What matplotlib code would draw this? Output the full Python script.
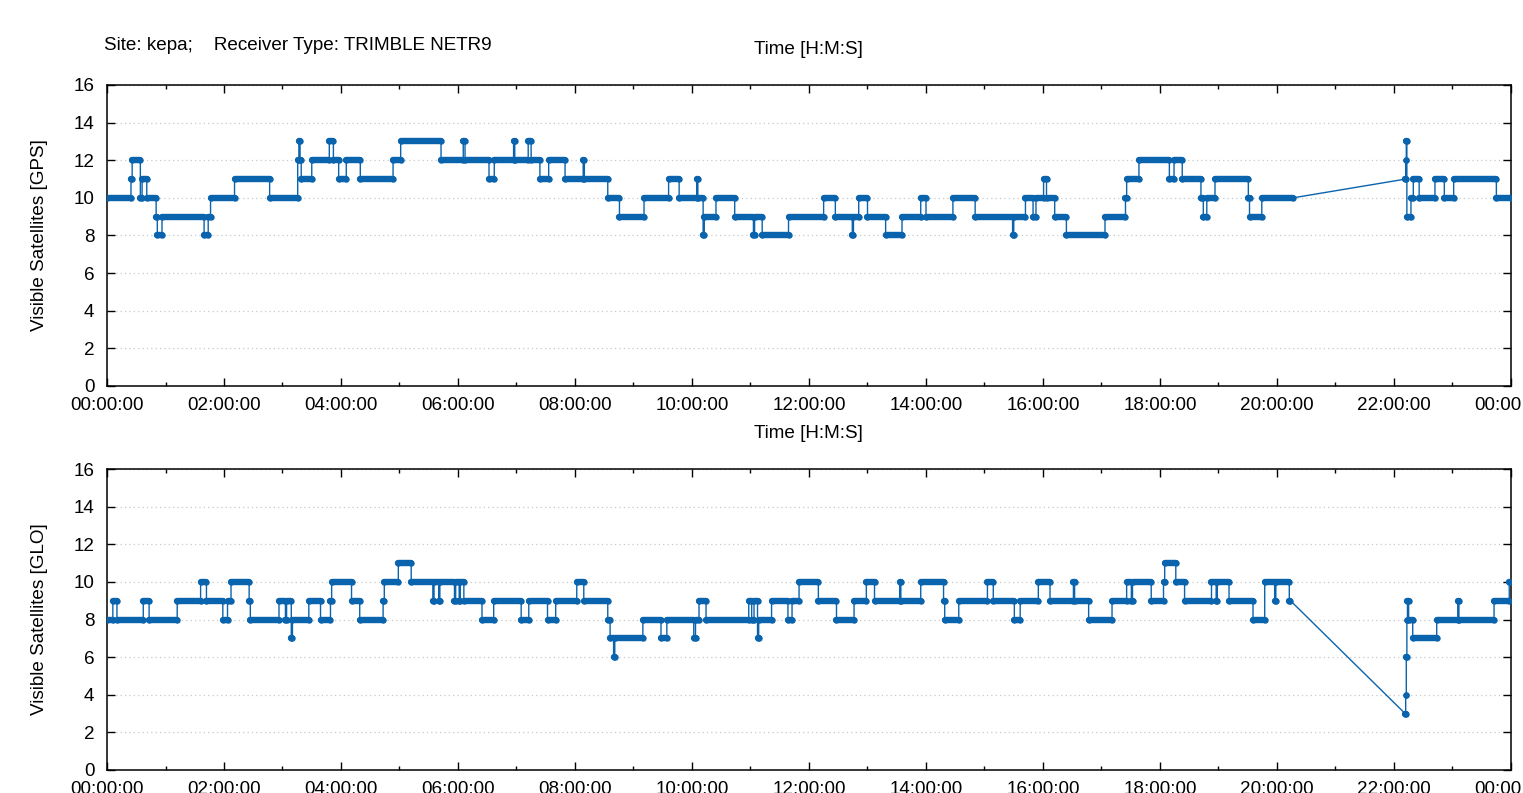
import numpy as np
import matplotlib
matplotlib.use('Agg')
import matplotlib.pyplot as plt

plt.rcParams['font.family'] = ['Liberation Sans', 'DejaVu Sans']

nan = float('nan')

# GPS: time (hours) where the count changes, and the count from there on
gps_t = [0.00, 0.41, 0.43, 0.57, 0.60, 0.68, 0.84, 0.86, 0.94, 1.66,
         1.73, 1.77, 2.18, 2.78, 3.26, 3.28, 3.30, 3.32, 3.50, 3.80,
         3.87, 3.96, 4.09, 4.33, 4.89, 5.02, 5.71, 6.09, 6.12, 6.53,
         6.62, 6.95, 6.97, 7.20, 7.25, 7.40, 7.55, 7.83, 8.14, 8.16,
         8.56, 8.76, 9.18, 9.60, 9.78, 10.08, 10.10, 10.19, 10.21, 10.41,
         10.73, 11.05, 11.07, 11.20, 11.65, 12.25, 12.45, 12.74, 12.76, 12.85,
         13.00, 13.31, 13.59, 13.91, 14.00, 14.46, 14.84, 15.48, 15.50, 15.70,
         15.83, 15.88, 16.01, 16.06, 16.20, 16.40, 17.06, 17.41, 17.43, 17.64,
         18.16, 18.24, 18.38, 18.70, 18.74, 18.80, 18.94, 19.51, 19.53, 19.74,
         20.27, 22.19, 22.20, 22.21, 22.22, 22.29, 22.33, 22.43, 22.70, 22.86,
         23.02, 23.75]
gps_v = [10, 11, 12, 10, 11, 10, 9, 8, 9, 8,
         9, 10, 11, 10, 12, 13, 12, 11, 12, 13,
         12, 11, 12, 11, 12, 13, 12, 13, 12, 11,
         12, 13, 12, 13, 12, 11, 12, 11, 12, 11,
         10, 9, 10, 11, 10, 11, 10, 8, 9, 10,
         9, 8, 9, 8, 9, 10, 9, 8, 9, 10,
         9, 8, 9, 10, 9, 10, 9, 8, 9, 10,
         9, 10, 11, 10, 9, 8, 9, 10, 11, 12,
         11, 12, 11, 10, 9, 10, 11, 10, 9, 10,
         nan, 11, 12, 13, 9, 10, 11, 10, 11, 10,
         11, 10]
gps_end = 24.0

# GLONASS
glo_t = [0.00, 0.10, 0.17, 0.62, 0.72, 1.20, 1.60, 1.70, 1.98, 2.06,
         2.12, 2.43, 2.45, 2.94, 3.05, 3.07, 3.15, 3.17, 3.45, 3.65,
         3.82, 3.84, 4.18, 4.32, 4.72, 4.74, 4.98, 5.20, 5.57, 5.59,
         5.67, 5.69, 5.94, 5.96, 6.02, 6.04, 6.10, 6.41, 6.61, 7.08,
         7.21, 7.53, 7.67, 8.03, 8.15, 8.56, 8.60, 8.66, 8.68, 9.16,
         9.47, 9.57, 10.03, 10.06, 10.12, 10.24, 10.97, 11.02, 11.06, 11.12,
         11.14, 11.36, 11.64, 11.71, 11.83, 12.16, 12.47, 12.77, 12.98, 13.12,
         13.55, 13.57, 13.91, 14.30, 14.32, 14.56, 15.05, 15.15, 15.51, 15.61,
         15.92, 16.12, 16.52, 16.54, 16.78, 17.18, 17.43, 17.51, 17.53, 17.85,
         18.06, 18.08, 18.27, 18.42, 18.88, 18.96, 18.98, 19.18, 19.59, 19.79,
         19.96, 19.98, 20.21, 20.23, 22.19, 22.20, 22.21, 22.22, 22.23, 22.25,
         22.32, 22.73, 23.09, 23.11, 23.71, 23.97]
glo_v = [8, 9, 8, 9, 8, 9, 10, 9, 8, 9,
         10, 9, 8, 9, 8, 9, 7, 8, 9, 8,
         9, 10, 9, 8, 9, 10, 11, 10, 9, 10,
         9, 10, 9, 10, 9, 10, 9, 8, 9, 8,
         9, 8, 9, 10, 9, 8, 7, 6, 7, 8,
         7, 8, 7, 8, 9, 8, 9, 8, 9, 7,
         8, 9, 8, 9, 10, 9, 8, 9, 10, 9,
         10, 9, 10, 9, 8, 9, 10, 9, 8, 9,
         10, 9, 10, 9, 8, 9, 10, 9, 10, 9,
         10, 11, 10, 9, 10, 9, 10, 9, 8, 10,
         9, 10, 9, nan, 3, 4, 6, 8, 9, 8,
         7, 8, 9, 8, 9, 10]
glo_end = 23.98

assert len(gps_t) == len(gps_v)
assert len(glo_t) == len(glo_v)

hour_ticks = list(range(0, 25, 2))
hour_labels = ['%02d:00:00' % (h % 24) for h in hour_ticks]

color = '#0a63ad'
W, H = 1523, 793
fs = 13.6


def draw_panel(ax, t, v, t_end, ylabel_y, ylabel):
    starts = np.array(t)
    ends = np.append(starts[1:], t_end)
    vals = np.array(v, dtype=float)
    ok = ~np.isnan(vals)
    s, e, y = starts[ok], ends[ok], vals[ok]

    # thin connecting line (verticals at changes, straight line over the gap)
    px = np.column_stack([s, e]).ravel()
    py = np.column_stack([y, y]).ravel()
    ax.plot(px, py, color=color, lw=1.0, zorder=3)
    # runs of densely packed points
    ax.hlines(y, s, e, color=color, lw=4.6, capstyle='round', zorder=4)
    ax.plot(px, py, 'o', color=color, ms=4.6, mew=0, zorder=4)

    ax.set_xlim(0, 24)
    ax.set_ylim(0, 16)
    ax.set_yticks(range(0, 17, 2))
    ax.set_xticks(hour_ticks)
    ax.set_xticklabels(hour_labels)
    ax.set_xticks(range(1, 24, 2), minor=True)
    ax.tick_params(which='both', direction='in', top=True, right=True,
                   labelsize=fs, width=1.0)
    ax.tick_params(which='major', length=6)
    ax.tick_params(which='minor', length=3)
    ax.tick_params(axis='x', pad=8)
    ax.tick_params(axis='y', pad=9)
    ax.grid(axis='y', color='#c8c8c8', lw=0.9, linestyle=(0, (1, 2.5)))
    for sp in ax.spines.values():
        sp.set_linewidth(1.1)
    fig.text(40 / W, ylabel_y, ylabel, rotation=90, ha='center', va='center',
             fontsize=fs)


fig = plt.figure(figsize=(W / 100, H / 100), dpi=100)
ax1 = fig.add_axes([107 / W, 1 - 386 / H, 1404 / W, 301 / H])
ax2 = fig.add_axes([107 / W, 1 - 770 / H, 1404 / W, 301 / H])

draw_panel(ax1, gps_t, gps_v, gps_end, 1 - 235 / H, 'Visible Satellites [GPS]')
draw_panel(ax2, glo_t, glo_v, glo_end, 1 - 619 / H, 'Visible Satellites [GLO]')

fig.text(104 / W, 1 - 45 / H, 'Site: kepa;    Receiver Type: TRIMBLE NETR9',
         ha='left', va='center', fontsize=fs)
fig.text(808 / W, 1 - 49 / H, 'Time [H:M:S]', ha='center', va='center', fontsize=fs)
fig.text(808 / W, 1 - 433 / H, 'Time [H:M:S]', ha='center', va='center', fontsize=fs)

fig.savefig('out.png', dpi=100)
